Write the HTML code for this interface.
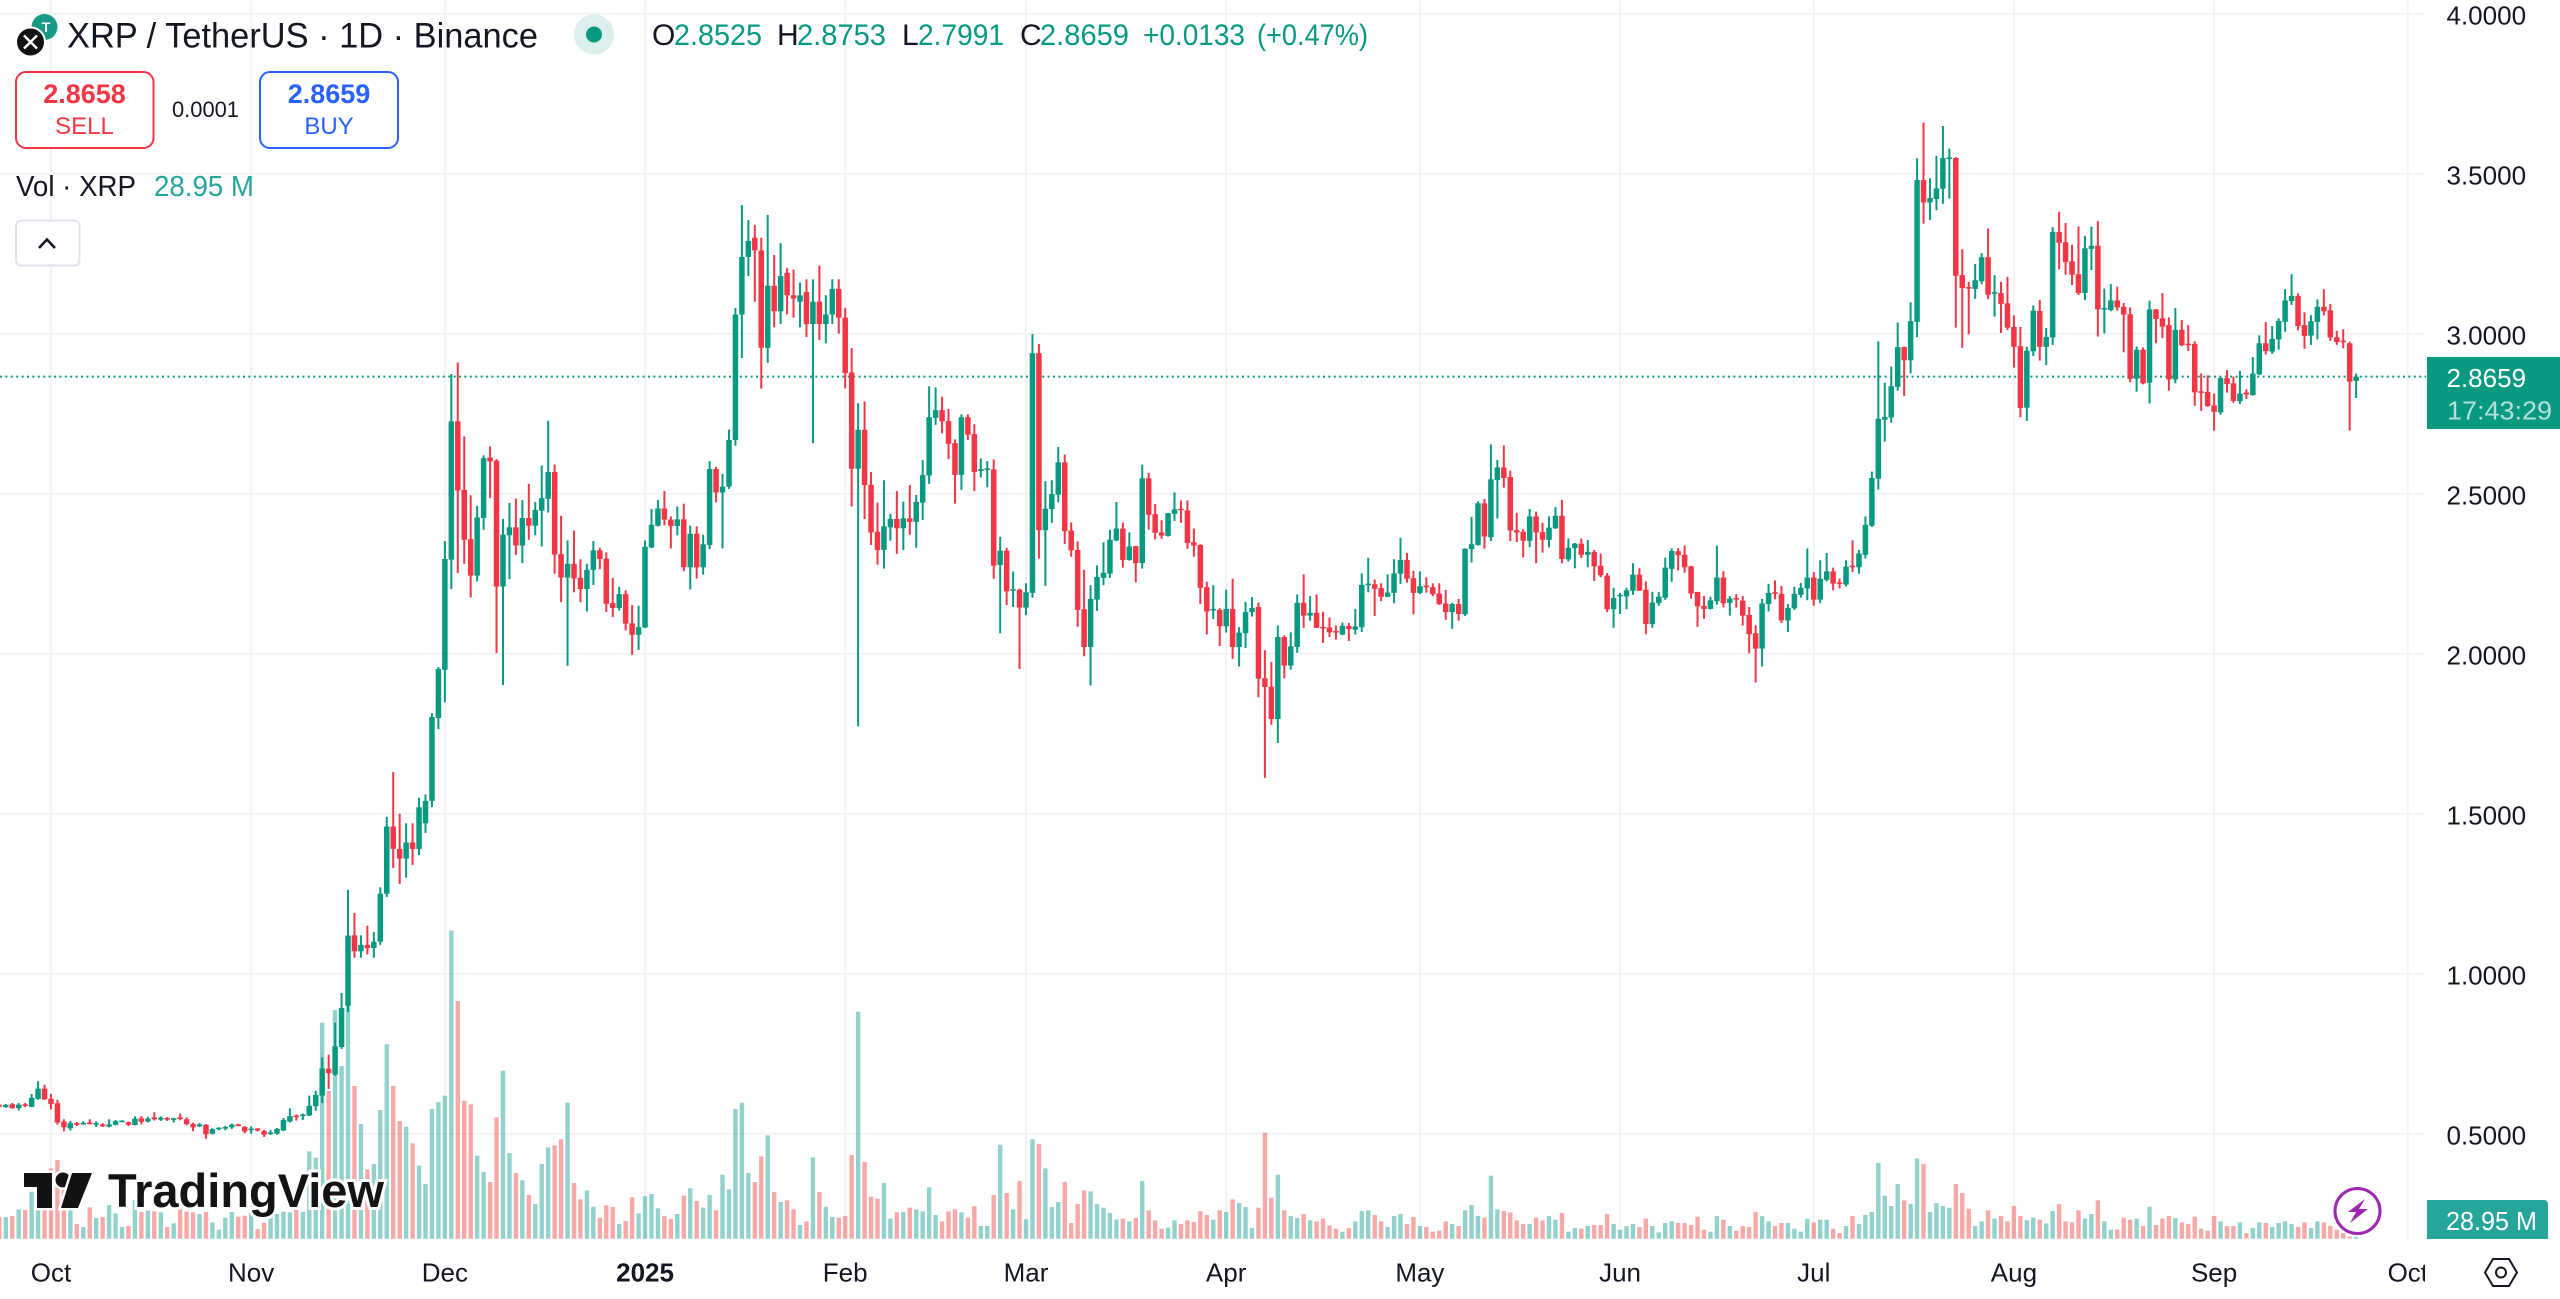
<!DOCTYPE html>
<html lang="en">
<head>
<meta charset="utf-8">
<title>XRP / TetherUS 1D Binance chart</title>
<style>
html,body{margin:0;padding:0;background:#fff;width:2560px;height:1299px;overflow:hidden}
svg{display:block;font-family:"Liberation Sans",sans-serif}
</style>
</head>
<body>
<svg id="chart" xmlns="http://www.w3.org/2000/svg" width="2560" height="1299" viewBox="0 0 2560 1299">
  <defs>
    <clipPath id="pane-clip"><rect x="0" y="0" width="2426" height="1239"></rect></clipPath>
    <clipPath id="time-clip"><rect x="0" y="1240" width="2425" height="59"></rect></clipPath>
  </defs>
  <rect x="0" y="0" width="2560" height="1299" fill="#ffffff"></rect>
  <g id="grid"></g>
  <g id="volumes" clip-path="url(#pane-clip)"></g>

  <g>
    <g fill="#131313" stroke="#ffffff" stroke-width="5" paint-order="stroke">
      <path d="M24 1173H52V1208H37V1187H24Z"></path>
      <circle cx="63" cy="1180" r="7.5"></circle>
      <path d="M72 1173H92L78 1208H61Z"></path>
    </g>
    <text x="108" y="1207" font-size="47" font-weight="700" fill="#131313" stroke="#ffffff" stroke-width="6" paint-order="stroke" textLength="276" lengthAdjust="spacingAndGlyphs">TradingView</text>
  </g>

  <line id="last-line" x1="0" x2="2426" stroke="#089981" stroke-width="2" stroke-dasharray="2 3.4"></line>
  <g id="candles" clip-path="url(#pane-clip)"></g>
  <g id="price-axis"></g>
  <g id="time-axis" clip-path="url(#time-clip)"></g>

  <g>
    <rect x="2427" y="357" width="133" height="72" fill="#089981"></rect>
    <text id="last-price-text" x="2446.5" y="387" font-size="26" fill="#ffffff"></text>
    <text x="2447" y="419.5" font-size="26" fill="#b5e0d9" textLength="105" lengthAdjust="spacingAndGlyphs">17:43:29</text>
  </g>
  <g>
    <path d="M2427 1200H2544a4 4 0 0 1 4 4V1239H2427Z" fill="#26a69a"></path>
    <text x="2446" y="1230" font-size="26" fill="#ffffff" textLength="91" lengthAdjust="spacingAndGlyphs">28.95 M</text>
  </g>

  <g>
    <circle cx="44.5" cy="27" r="13" fill="#179b87"></circle>
    <text x="46" y="32" font-size="14" font-weight="700" fill="#ffffff" text-anchor="middle">T</text>
    <circle cx="30.5" cy="42" r="14.5" fill="#131313" stroke="#ffffff" stroke-width="2"></circle>
    <path d="M24 35.5L30.5 42L37 35.5M24 48.5L30.5 42L37 48.5" fill="none" stroke="#ffffff" stroke-width="2.4"></path>
  </g>
  <text x="67" y="47.5" font-size="35" fill="#131722" textLength="471" lengthAdjust="spacingAndGlyphs">XRP / TetherUS · 1D · Binance</text>
  <circle cx="594" cy="34.5" r="20" fill="#dcefec"></circle>
  <circle cx="594" cy="34.5" r="8" fill="#089981"></circle>

  <g font-size="30">
    <text x="652" y="45" fill="#131722">O</text>
    <text x="674" y="45" fill="#089981" textLength="88" lengthAdjust="spacingAndGlyphs">2.8525</text>
    <text x="777" y="45" fill="#131722">H</text>
    <text x="797" y="45" fill="#089981" textLength="89" lengthAdjust="spacingAndGlyphs">2.8753</text>
    <text x="902" y="45" fill="#131722">L</text>
    <text x="918" y="45" fill="#089981" textLength="86" lengthAdjust="spacingAndGlyphs">2.7991</text>
    <text x="1020" y="45" fill="#131722">C</text>
    <text x="1040" y="45" fill="#089981" textLength="89" lengthAdjust="spacingAndGlyphs">2.8659</text>
    <text x="1143" y="45" fill="#089981" textLength="102" lengthAdjust="spacingAndGlyphs">+0.0133</text>
    <text x="1257" y="45" fill="#089981" textLength="111" lengthAdjust="spacingAndGlyphs">(+0.47%)</text>
  </g>

  <g>
    <rect x="16" y="72" width="137.5" height="76" rx="10" fill="#ffffff" stroke="#f23645" stroke-width="2"></rect>
    <text x="84.5" y="103" font-size="27" font-weight="700" fill="#f23645" text-anchor="middle">2.8658</text>
    <text x="84.5" y="134" font-size="24" fill="#f23645" text-anchor="middle">SELL</text>
  </g>
  <text x="172" y="117" font-size="22" fill="#131722" textLength="67" lengthAdjust="spacingAndGlyphs">0.0001</text>
  <g>
    <rect x="260" y="72" width="138" height="76" rx="10" fill="#ffffff" stroke="#2962ff" stroke-width="2"></rect>
    <text x="329" y="103" font-size="27" font-weight="700" fill="#2962ff" text-anchor="middle">2.8659</text>
    <text x="329" y="134" font-size="24" fill="#2962ff" text-anchor="middle">BUY</text>
  </g>

  <text x="16" y="196" font-size="29" fill="#131722" textLength="120" lengthAdjust="spacingAndGlyphs">Vol · XRP</text>
  <text x="154" y="196" font-size="29" fill="#26a69a" textLength="100" lengthAdjust="spacingAndGlyphs">28.95 M</text>

  <g>
    <rect x="16" y="220.5" width="63.5" height="45" rx="5" fill="#ffffff" stroke="#e0e3eb" stroke-width="2"></rect>
    <path d="M39 248L47 239.5L55 248" fill="none" stroke="#131722" stroke-width="2.6"></path>
  </g>

  <g>
    <circle cx="2357.5" cy="1211" r="22.5" fill="#ffffff" stroke="#9c27b0" stroke-width="3"></circle>
    <path d="M2365 1199L2348 1212H2356L2350 1223L2368 1209H2359Z" fill="#9c27b0"></path>
  </g>
  <g fill="none" stroke="#131722" stroke-width="2">
    <path d="M2485 1272.5L2493 1259H2509L2517 1272.5L2509 1286H2493Z"></path>
    <circle cx="2501" cy="1272.5" r="5"></circle>
  </g>
</svg>

<script>
const firstDay = '2024-09-23';

const opens = [
.590,.583,.592,.580,.592,.584,.609,.641,.609,.595,
.538,.517,.533,.531,.535,.529,.529,.522,.528,.537,
.536,.527,.548,.538,.551,.544,.549,.546,.551,.545,
.530,.523,.528,.500,.515,.518,.520,.529,.521,.515,
.516,.508,.500,.500,.510,.538,.557,.557,.557,.586,
.619,.703,.685,.771,.900,1.12,1.07,1.09,1.08,1.10,
1.25,1.46,1.39,1.36,1.41,1.39,1.47,1.54,1.799,1.950,
2.294,2.726,2.512,2.358,2.244,2.424,2.613,2.603,2.210,2.370,
2.395,2.338,2.424,2.400,2.447,2.484,2.568,2.311,2.238,2.281,
2.237,2.202,2.262,2.323,2.297,2.158,2.143,2.186,2.095,2.059,
2.082,2.332,2.400,2.454,2.419,2.399,2.420,2.270,2.375,2.270,
2.340,2.577,2.504,2.522,2.668,3.06,3.24,3.30,3.26,2.956,
3.15,3.07,3.19,3.12,3.10,3.13,3.03,3.10,3.03,3.06,
3.14,3.05,2.879,2.578,2.700,2.528,2.381,2.324,2.395,2.421,
2.392,2.423,2.412,2.472,2.557,2.737,2.761,2.727,2.658,2.559,
2.739,2.686,2.571,2.575,2.576,2.277,2.322,2.197,2.200,2.144,
2.190,2.939,2.386,2.452,2.497,2.598,2.385,2.324,2.139,2.021,
2.169,2.237,2.250,2.354,2.391,2.293,2.336,2.283,2.548,2.436,
2.379,2.368,2.437,2.453,2.448,2.348,2.340,2.208,2.135,2.137,
2.086,2.140,2.021,2.064,2.130,2.146,1.923,1.897,1.796,2.052,
1.963,2.021,2.159,2.119,2.128,2.084,2.082,2.071,2.060,2.087,
2.075,2.083,2.215,2.217,2.205,2.178,2.190,2.250,2.293,2.236,
2.190,2.213,2.208,2.188,2.157,2.130,2.155,2.123,2.327,2.340,
2.470,2.364,2.543,2.582,2.552,2.386,2.381,2.353,2.429,2.380,
2.356,2.392,2.431,2.295,2.330,2.344,2.309,2.318,2.275,2.244,
2.139,2.179,2.179,2.197,2.247,2.200,2.093,2.158,2.175,2.265,
2.320,2.309,2.273,2.193,2.149,2.140,2.164,2.238,2.159,2.174,
2.166,2.121,2.064,2.016,2.155,2.192,2.187,2.104,2.142,2.184,
2.204,2.238,2.169,2.231,2.257,2.223,2.216,2.275,2.270,2.309,
2.400,2.547,2.731,2.738,2.834,2.958,2.917,3.037,3.480,3.410,
3.421,3.453,3.548,3.549,3.183,3.146,3.140,3.164,3.239,3.125,
3.127,3.095,3.021,2.961,2.769,2.945,3.071,2.959,2.988,3.318,
3.286,3.226,3.186,3.127,3.265,3.275,3.076,3.074,3.104,3.084,
3.061,2.859,2.950,2.847,3.076,3.048,3.027,2.857,3.012,2.969,
2.968,2.820,2.818,2.776,2.754,2.861,2.845,2.789,2.816,2.808,
2.873,2.970,2.944,2.982,3.037,3.102,3.118,3.027,2.994,3.037,
3.084,3.073,2.989,2.978,2.970,2.8525];

const highs = [
.594,.593,.596,.596,.596,.624,.664,.653,.624,.606,
.545,.540,.537,.539,.545,.539,.533,.545,.543,.542,
.538,.554,.555,.553,.567,.554,.552,.550,.563,.551,
.534,.533,.530,.517,.520,.525,.532,.531,.524,.523,
.518,.512,.512,.518,.549,.579,.560,.563,.619,.634,
.738,.747,.847,.94,1.262,1.19,1.12,1.15,1.13,1.27,
1.49,1.63,1.50,1.47,1.47,1.55,1.56,1.814,1.958,2.352,
2.874,2.910,2.679,2.495,2.462,2.620,2.648,2.608,2.421,2.471,
2.485,2.480,2.531,2.474,2.588,2.728,2.591,2.431,2.354,2.385,
2.295,2.281,2.352,2.331,2.317,2.237,2.209,2.198,2.152,2.150,
2.354,2.452,2.480,2.508,2.429,2.460,2.469,2.400,2.398,2.372,
2.602,2.584,2.562,2.700,3.08,3.402,3.355,3.34,3.30,3.371,
3.246,3.283,3.205,3.20,3.16,3.17,3.17,3.213,3.12,3.17,
3.17,3.08,2.955,2.783,2.788,2.568,2.472,2.542,2.437,2.508,
2.475,2.527,2.496,2.605,2.836,2.832,2.803,2.765,2.670,2.748,
2.748,2.717,2.610,2.602,2.607,2.365,2.331,2.257,2.203,2.220,
2.999,2.968,2.539,2.542,2.646,2.622,2.410,2.351,2.262,2.214,
2.276,2.348,2.387,2.474,2.410,2.379,2.337,2.591,2.565,2.468,
2.417,2.440,2.504,2.479,2.479,2.391,2.342,2.225,2.214,2.142,
2.200,2.234,2.083,2.162,2.177,2.160,2.011,1.974,2.088,2.057,
2.067,2.185,2.248,2.180,2.185,2.131,2.113,2.088,2.097,2.096,
2.140,2.251,2.300,2.232,2.220,2.248,2.295,2.362,2.315,2.259,
2.257,2.239,2.220,2.220,2.199,2.159,2.171,2.329,2.428,2.476,
2.484,2.654,2.605,2.651,2.572,2.440,2.389,2.452,2.444,2.409,
2.429,2.458,2.481,2.360,2.346,2.360,2.355,2.324,2.313,2.252,
2.206,2.190,2.206,2.283,2.267,2.226,2.193,2.193,2.300,2.329,
2.330,2.338,2.275,2.193,2.180,2.178,2.338,2.258,2.180,2.186,
2.180,2.146,2.089,2.171,2.218,2.229,2.212,2.155,2.209,2.221,
2.329,2.255,2.292,2.315,2.269,2.235,2.292,2.354,2.324,2.429,
2.569,2.976,2.847,2.897,3.035,2.960,3.098,3.548,3.660,3.486,
3.556,3.649,3.578,3.552,3.264,3.162,3.218,3.252,3.329,3.183,
3.162,3.178,3.057,3.021,2.959,3.088,3.105,3.018,3.333,3.381,
3.346,3.278,3.335,3.306,3.335,3.352,3.141,3.155,3.147,3.096,
3.082,2.960,2.957,3.103,3.077,3.127,3.051,3.080,3.043,3.027,
2.976,2.876,2.870,2.813,2.864,2.886,2.866,2.884,2.826,2.927,
2.995,3.036,3.024,3.048,3.139,3.186,3.126,3.067,3.058,3.107,
3.139,3.093,3.009,3.014,2.975,2.8753];

const lows = [
.580,.581,.578,.573,.583,.583,.606,.606,.576,.528,
.507,.510,.524,.528,.529,.521,.521,.520,.526,.536,
.524,.526,.529,.535,.541,.540,.540,.535,.542,.526,
.508,.521,.484,.498,.511,.511,.515,.523,.501,.500,
.507,.490,.496,.497,.508,.535,.541,.543,.555,.572,
.596,.640,.681,.765,.880,1.05,1.05,1.06,1.05,1.09,
1.24,1.33,1.28,1.30,1.34,1.37,1.44,1.52,1.764,1.848,
2.202,2.252,2.281,2.176,2.226,2.387,2.486,2.002,1.902,2.233,
2.309,2.283,2.356,2.370,2.335,2.441,2.250,2.161,1.962,2.192,
2.161,2.132,2.215,2.264,2.130,2.115,2.135,2.073,1.996,2.012,
2.080,2.330,2.398,2.401,2.329,2.370,2.258,2.201,2.235,2.247,
2.327,2.473,2.329,2.515,2.650,2.924,3.18,3.10,2.828,2.909,
3.02,3.03,3.06,3.05,3.02,2.99,2.658,2.98,2.97,3.03,
3.00,2.829,2.460,1.773,2.421,2.340,2.278,2.266,2.353,2.312,
2.324,2.371,2.331,2.418,2.530,2.715,2.689,2.608,2.469,2.512,
2.668,2.508,2.551,2.520,2.234,2.064,2.152,2.146,1.952,2.121,
2.175,2.297,2.212,2.409,2.473,2.343,2.303,2.084,1.992,1.901,
2.134,2.214,2.237,2.352,2.269,2.291,2.223,2.266,2.388,2.357,
2.359,2.366,2.415,2.409,2.328,2.303,2.155,2.060,2.108,2.024,
2.066,1.984,1.960,2.018,2.116,1.864,1.612,1.778,1.721,1.923,
1.950,2.003,2.081,2.103,2.080,2.034,2.052,2.044,2.058,2.040,
2.060,2.068,2.192,2.118,2.164,2.177,2.158,2.218,2.222,2.123,
2.186,2.191,2.180,2.152,2.106,2.078,2.103,2.118,2.285,2.338,
2.328,2.352,2.423,2.519,2.352,2.349,2.301,2.333,2.283,2.316,
2.332,2.390,2.283,2.288,2.267,2.299,2.270,2.227,2.239,2.130,
2.081,2.124,2.139,2.184,2.196,2.061,2.081,2.150,2.168,2.225,
2.260,2.253,2.172,2.084,2.109,2.138,2.153,2.145,2.119,2.144,
2.088,2.001,1.910,1.960,2.132,2.170,2.096,2.068,2.137,2.175,
2.167,2.150,2.158,2.226,2.198,2.204,2.210,2.255,2.250,2.298,
2.396,2.513,2.663,2.722,2.822,2.805,2.876,2.989,3.344,3.355,
3.386,3.406,3.422,3.019,2.956,2.998,3.109,3.155,3.108,3.053,
3.002,3.011,2.894,2.739,2.728,2.930,2.916,2.902,2.965,3.201,
3.184,3.152,3.121,3.105,3.199,2.991,3.001,3.070,3.072,2.942,
2.848,2.819,2.842,2.782,2.970,2.986,2.822,2.845,2.961,2.946,
2.775,2.759,2.771,2.697,2.747,2.816,2.784,2.780,2.796,2.807,
2.871,2.935,2.937,2.950,3.006,3.090,3.011,2.953,2.965,2.982,
3.057,2.978,2.965,2.954,2.697,2.7991];

const closes = [
.585,.590,.580,.591,.588,.612,.641,.607,.593,.535,
.520,.533,.529,.534,.531,.533,.523,.529,.539,.541,
.528,.547,.537,.547,.545,.550,.544,.548,.547,.530,
.520,.529,.498,.514,.519,.521,.528,.526,.507,.516,
.510,.497,.504,.515,.543,.555,.555,.560,.587,.621,
.704,.689,.773,.893,1.119,1.07,1.09,1.08,1.10,1.25,
1.46,1.39,1.36,1.41,1.39,1.52,1.54,1.802,1.952,2.296,
2.726,2.510,2.356,2.244,2.426,2.611,2.601,2.210,2.372,2.395,
2.338,2.424,2.400,2.449,2.486,2.568,2.310,2.238,2.281,2.235,
2.202,2.262,2.323,2.296,2.156,2.143,2.186,2.094,2.059,2.083,
2.334,2.403,2.454,2.419,2.399,2.420,2.270,2.375,2.270,2.342,
2.577,2.504,2.522,2.668,3.06,3.24,3.29,3.26,2.956,3.15,
3.07,3.18,3.12,3.11,3.12,3.03,3.10,3.03,3.06,3.14,
3.05,2.877,2.578,2.700,2.527,2.379,2.324,2.398,2.421,2.392,
2.423,2.412,2.474,2.558,2.739,2.761,2.726,2.656,2.559,2.739,
2.684,2.568,2.577,2.579,2.275,2.322,2.195,2.202,2.144,2.192,
2.939,2.386,2.453,2.499,2.598,2.383,2.323,2.137,2.021,2.171,
2.240,2.253,2.356,2.391,2.293,2.335,2.283,2.548,2.434,2.378,
2.369,2.439,2.451,2.450,2.346,2.338,2.206,2.132,2.140,2.086,
2.140,2.021,2.066,2.130,2.143,1.922,1.896,1.796,2.052,1.963,
2.023,2.159,2.119,2.128,2.081,2.081,2.067,2.067,2.087,2.077,
2.085,2.215,2.219,2.203,2.178,2.191,2.251,2.293,2.234,2.190,
2.211,2.209,2.186,2.155,2.130,2.155,2.124,2.328,2.342,2.470,
2.366,2.545,2.582,2.549,2.385,2.379,2.353,2.429,2.379,2.356,
2.394,2.431,2.296,2.331,2.344,2.309,2.318,2.273,2.245,2.139,
2.174,2.184,2.198,2.247,2.197,2.093,2.160,2.178,2.269,2.321,
2.308,2.270,2.188,2.148,2.140,2.167,2.238,2.158,2.172,2.171,
2.119,2.061,2.016,2.157,2.190,2.189,2.104,2.143,2.187,2.206,
2.238,2.169,2.234,2.257,2.219,2.220,2.272,2.271,2.313,2.403,
2.549,2.734,2.740,2.836,2.958,2.917,3.039,3.480,3.410,3.424,
3.454,3.549,3.551,3.181,3.143,3.143,3.167,3.239,3.122,3.130,
3.093,3.019,2.959,2.768,2.947,3.072,2.959,2.990,3.318,3.284,
3.224,3.184,3.127,3.267,3.275,3.076,3.080,3.104,3.082,3.060,
2.859,2.950,2.845,3.076,3.046,3.022,2.857,3.012,2.964,2.965,
2.817,2.817,2.774,2.756,2.861,2.843,2.790,2.813,2.810,2.875,
2.970,2.946,2.984,3.040,3.104,3.118,3.024,2.993,3.039,3.084,
3.070,2.988,2.974,2.975,2.850,2.8659];

const volumesMillions = [
320,325,340,440,430,705,480,530,1055,1180,
780,630,220,175,470,310,325,505,380,175,
190,580,400,420,410,395,175,230,455,405,
395,370,400,245,135,315,400,330,345,405,
145,240,340,370,405,395,480,405,1310,1215,
3240,2215,3430,2590,3805,2290,1720,1040,1120,1930,
2915,2290,1765,1680,1430,1095,820,1945,2050,2145,
4620,3565,2070,2015,1245,1000,850,1820,2520,1285,
985,875,655,520,1120,1370,1400,1490,2040,835,
590,725,480,315,500,475,220,265,620,380,
640,670,455,340,295,370,645,755,565,465,
655,425,960,740,1945,2040,985,850,1235,1550,
700,550,575,440,205,260,1220,700,480,325,
315,340,1255,3405,1150,630,600,835,300,395,
400,465,440,410,770,355,260,410,440,395,
315,490,190,190,655,1410,685,440,865,290,
1490,1420,1055,475,550,850,235,520,725,710,
520,465,385,290,300,260,315,865,425,275,
150,165,275,220,275,250,415,355,285,425,
400,590,535,475,160,465,1590,615,960,425,
340,310,370,275,260,300,200,150,105,160,
260,415,425,355,260,175,340,370,220,325,
190,175,105,120,260,220,190,425,505,340,
315,945,440,415,395,275,220,220,315,275,
340,285,385,105,160,150,190,205,205,370,
220,135,190,220,175,300,190,95,235,260,
235,235,205,330,135,105,340,285,190,120,
190,175,400,340,260,190,235,235,150,105,
300,245,285,285,150,85,190,340,220,355,
400,1135,645,490,820,575,520,1205,1120,400,
535,490,465,820,685,450,190,260,425,300,
340,260,490,340,275,315,285,230,415,520,
260,245,425,300,370,575,260,135,135,315,
285,300,190,480,205,300,340,310,245,220,
330,150,120,340,260,190,190,245,85,160,
245,235,175,235,260,220,175,245,160,260,
245,190,135,85,30,28.95];

const priceTicks = [4, 3.5, 3, 2.5, 2, 1.5, 1, 0.5];
const timeTickDates = ['2024-10-01','2024-11-01','2024-12-01','2025-01-01','2025-02-01','2025-03-01','2025-04-01','2025-05-01','2025-06-01','2025-07-01','2025-08-01','2025-09-01','2025-10-01'];
const timeTickLabels = ['Oct','Nov','Dec','2025','Feb','Mar','Apr','May','Jun','Jul','Aug','Sep','Oct'];
const lastPrice = 2.8659;

const SVG_NS = 'http://www.w3.org/2000/svg';
const DAY_MS = 86400000;
const paneRight = 2426;
const paneBottom = 1239;
const volumeBase = 1238.7;
const barSpacing = 6.457;
const firstBarX = -0.66;
const bodyWidth = 5.5;
const wickWidth = 2;
const volumeBarWidth = 4.4;
const upColor = '#089981';
const downColor = '#f23645';
const upVolumeColor = 'rgba(38,166,154,0.5)';
const downVolumeColor = 'rgba(239,83,80,0.5)';

function xOfIndex(i) { return firstBarX + i * barSpacing; }
function xOfDate(iso) { return xOfIndex((Date.parse(iso) - Date.parse(firstDay)) / DAY_MS); }
function yOfPrice(p) { return 333.7 + (3 - p) * 320; }
function hOfVolume(v) { return v / 15; }
function make(tag, attrs) {
  const el = document.createElementNS(SVG_NS, tag);
  for (const k in attrs) el.setAttribute(k, attrs[k]);
  return el;
}

const gridGroup = document.getElementById('grid');
const priceAxis = document.getElementById('price-axis');
const timeAxis = document.getElementById('time-axis');
const volumeGroup = document.getElementById('volumes');
const candleGroup = document.getElementById('candles');

priceTicks.forEach(function (tick) {
  const y = yOfPrice(tick);
  const line = make('line', { x1: 0, x2: paneRight - 1, y1: y, y2: y, stroke: '#f3f3f5', 'stroke-width': 2 });
  
  
  gridGroup.appendChild(line);
  const label = make('text', { x: 2446.5, y: y + 10.6, 'font-size': 26, fill: '#131722' });
  
  
  label.textContent = tick.toFixed(4);
  priceAxis.appendChild(label);
});

timeTickDates.forEach(function (date, i) {
  const x = xOfDate(date);
  const line = make('line', { x1: x, x2: x, y1: 0, y2: paneBottom, stroke: '#f3f3f5', 'stroke-width': 2 });
  
  
  gridGroup.appendChild(line);
  const label = make('text', { x: x, y: 1281.7, 'font-size': 26, fill: '#131722', 'text-anchor': 'middle' });
  if (timeTickLabels[i] === '2025') label.setAttribute('font-weight', '700');
  
  
  label.textContent = timeTickLabels[i];
  timeAxis.appendChild(label);
});

volumesMillions.forEach(function (v, i) {
  const up = closes[i] >= opens[i];
  const h = hOfVolume(v);
  const bar = make('rect', { x: xOfIndex(i) - volumeBarWidth / 2, y: volumeBase - h, width: volumeBarWidth, height: h, fill: up ? upVolumeColor : downVolumeColor });
  
  
  volumeGroup.appendChild(bar);
});

closes.forEach(function (c, i) {
  const o = opens[i];
  const up = c >= o;
  const color = up ? upColor : downColor;
  const x = xOfIndex(i);
  const g = make('g', {});
  
  
  const wick = make('rect', { x: x - wickWidth / 2, y: yOfPrice(highs[i]), width: wickWidth, height: yOfPrice(lows[i]) - yOfPrice(highs[i]), fill: color });
  
  
  g.appendChild(wick);
  const top = yOfPrice(Math.max(o, c));
  const bottom = yOfPrice(Math.min(o, c));
  const body = make('rect', { x: x - bodyWidth / 2, y: top, width: bodyWidth, height: Math.max(bottom - top, 1.6), fill: color });
  
  
  g.appendChild(body);
  candleGroup.appendChild(g);
});

const lastLine = document.getElementById('last-line');
lastLine.setAttribute('y1', yOfPrice(lastPrice));
lastLine.setAttribute('y2', yOfPrice(lastPrice));
document.getElementById('last-price-text').textContent = lastPrice.toFixed(4);
</script>
</body>
</html>
